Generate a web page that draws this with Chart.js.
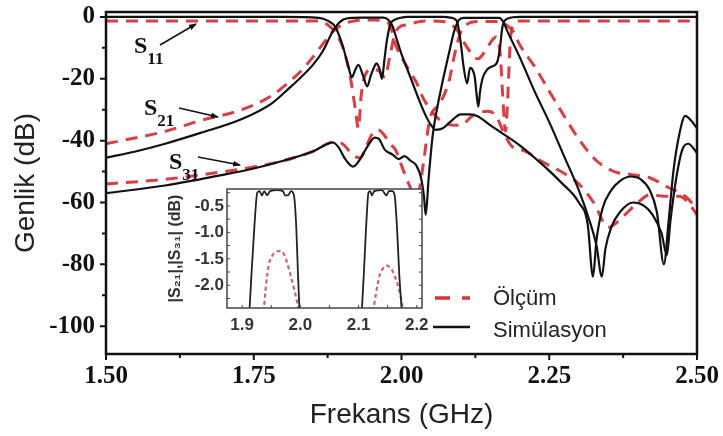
<!DOCTYPE html>
<html>
<head>
<meta charset="utf-8">
<script src="https://cdn.jsdelivr.net/npm/chart.js@4.4.1/dist/chart.umd.min.js"></script>
<style>
  html, body { margin: 0; padding: 0; background: #fff; }
  #wrap { position: relative; width: 723px; height: 436px; overflow: hidden; }
  #main { position: absolute; left: 0; top: 0; }
  #inset { position: absolute; left: 150px; top: 170px; }
  svg { position: absolute; left: 0; top: 0; }
  .lbl { position: absolute; font-family: "Liberation Serif", serif; font-weight: bold; font-size: 24px; line-height: 24px; color: #111; white-space: nowrap; }
  .lbl span { font-size: 17px; position: relative; top: 11px; }
  .leg { position: absolute; font-family: "Liberation Sans", Arial, sans-serif; font-size: 22px; line-height: 22px; color: #222; white-space: nowrap; }
</style>
</head>
<body>
<div id="wrap">
  <canvas id="main" width="723" height="436"></canvas>
  <canvas id="inset" width="280" height="175"></canvas>
  <svg width="723" height="436">
    <defs>
      <marker id="ah" markerWidth="8" markerHeight="6" refX="7" refY="3" orient="auto" markerUnits="userSpaceOnUse">
        <path d="M0,0 L8,3 L0,6 Z" fill="#111"/>
      </marker>
    </defs>
    <line x1="160" y1="45" x2="196" y2="24" stroke="#111" stroke-width="1.6" marker-end="url(#ah)"/>
    <line x1="179" y1="108" x2="218" y2="117" stroke="#111" stroke-width="1.6" marker-end="url(#ah)"/>
    <line x1="198" y1="157" x2="240" y2="165" stroke="#111" stroke-width="1.6" marker-end="url(#ah)"/>
    <line x1="435" y1="298" x2="473" y2="298" stroke="#d8353a" stroke-width="3.5" stroke-dasharray="15 12 8 100"/>
    <line x1="433" y1="327" x2="470" y2="327" stroke="#111" stroke-width="2.5"/>
  </svg>
  <div class="lbl" style="left:134px;top:33px">S<span>11</span></div>
  <div class="lbl" style="left:144px;top:95px">S<span>21</span></div>
  <div class="lbl" style="left:169px;top:149px">S<span>31</span></div>
  <div class="leg" style="left:493px;top:287px">Ölçüm</div>
  <div class="leg" style="left:493px;top:319px">Simülasyon</div>
</div>
<script>
// main axes
const xMajor = [1.5, 1.75, 2.0, 2.25, 2.5];
const xMinor = [1.625, 1.875, 2.125, 2.375];
const yMajor = [0, -20, -40, -60, -80, -100];
const yMinor = [-10, -30, -50, -70, -90];

// simulation (black solid)
const s11SimF = [1.50, 1.80, 1.86, 1.875, 1.888, 1.90, 1.91, 1.916, 1.922, 1.927,
  1.935, 1.942, 1.948, 1.953, 1.958, 1.963, 1.967, 1.971, 1.975, 1.981,
  1.99, 2.00, 2.01, 2.07, 2.085, 2.094, 2.10, 2.105, 2.111, 2.116,
  2.12, 2.124, 2.127, 2.13, 2.133, 2.137, 2.145, 2.153, 2.161, 2.166,
  2.171, 2.18, 2.20, 2.50];
const s11SimDb = [0, 0, -0.3, -1.2, -3.2, -9, -16, -19.5, -17, -15.5,
  -19, -22.5, -19, -16.5, -15, -17, -20, -14, -8, -2.5,
  -0.8, -0.2, 0, 0, -0.3, -1.5, -8, -16, -21.5, -16.5,
  -17, -19.5, -25, -29, -24, -20, -17, -16, -15, -11,
  -3, -0.5, 0, 0];

const s21SimF = [1.50, 1.55, 1.60, 1.66, 1.73, 1.78, 1.81, 1.83, 1.85, 1.867,
  1.88, 1.887, 1.90, 1.91, 1.93, 1.97, 1.978, 1.985, 1.99, 2.00,
  2.01, 2.02, 2.03, 2.04, 2.05, 2.058, 2.07, 2.085, 2.10, 2.115,
  2.128, 2.15, 2.20, 2.24, 2.27, 2.30, 2.315, 2.324, 2.33, 2.34,
  2.355, 2.37, 2.387, 2.405, 2.42, 2.432, 2.444, 2.452, 2.46, 2.47,
  2.48, 2.49, 2.50];
const s21SimDb = [-45.5, -43.5, -41, -37.5, -33, -28, -23, -19.5, -15.5, -11,
  -6, -3.5, -1, -0.4, -0.2, -0.2, -1, -3, -6, -12,
  -17, -22, -27, -31.5, -35, -36.5, -36, -33.5, -31.5, -31.5,
  -32, -35, -41.5, -48, -53.5, -60, -67, -84, -72, -62,
  -56, -53, -51.6, -52.5, -56, -63, -80, -66, -50, -38,
  -32, -33.5, -36];

const s31SimF = [1.50, 1.60, 1.70, 1.75, 1.80, 1.85, 1.884, 1.893, 1.905, 1.918,
  1.93, 1.942, 1.955, 1.962, 1.972, 1.985, 1.995, 2.005, 2.015, 2.025,
  2.033, 2.038, 2.041, 2.046, 2.053, 2.065, 2.08, 2.09, 2.097, 2.105,
  2.165, 2.172, 2.18, 2.20, 2.225, 2.25, 2.275, 2.30, 2.32, 2.33,
  2.339, 2.345, 2.355, 2.37, 2.392, 2.41, 2.425, 2.44, 2.449, 2.455,
  2.465, 2.475, 2.485, 2.50];
const s31SimDb = [-57, -54.5, -51, -49, -46.5, -43.5, -40.6, -42, -46, -48.4,
  -46, -42, -39, -39.5, -43, -44.5, -46, -45, -46.5, -48,
  -52, -58, -64, -52, -38, -25, -12, -4, -1, -0.3,
  -0.3, -1.5, -5, -13, -24, -34, -45, -56, -67, -74,
  -84, -75, -68, -63, -60, -61, -64, -70, -77, -66,
  -52, -43, -41, -44];

// measurement (red dashed)
const s11MeasF = [1.50, 1.86, 1.875, 1.888, 1.90, 1.912, 1.922, 1.927, 1.932, 1.938,
  1.95, 1.962, 1.972, 1.98, 1.988, 1.995, 2.01, 2.04, 2.07, 2.085,
  2.095, 2.105, 2.115, 2.123, 2.13, 2.138, 2.148, 2.16, 2.167, 2.172,
  2.176, 2.18, 2.184, 2.19, 2.20, 2.50];
const s11MeasDb = [-1.3, -1.3, -2.5, -5, -9.5, -18, -30, -36, -25, -19,
  -17, -17.5, -19.5, -13, -6, -3.5, -2.5, -1.3, -1.5, -2.5,
  -4.5, -8, -11, -13, -13.5, -12, -9, -6.5, -12, -28,
  -37, -25, -8, -2.5, -1.3, -1.3];

const s21MeasF = [1.50, 1.60, 1.66, 1.73, 1.78, 1.81, 1.83, 1.85, 1.87, 1.885,
  1.90, 1.92, 1.95, 1.975, 1.983, 1.99, 2.00, 2.015, 2.026, 2.036,
  2.053, 2.07, 2.09, 2.10, 2.12, 2.145, 2.16, 2.172, 2.185, 2.21,
  2.24, 2.27, 2.30, 2.325, 2.35, 2.375, 2.40, 2.42, 2.445, 2.47,
  2.485, 2.50];
const s21MeasDb = [-41, -37, -33.5, -30, -25.5, -21, -17.5, -13, -8, -4.5,
  -2.5, -1.3, -1, -1.5, -4, -9, -13, -18, -21.5, -26,
  -31, -34, -35, -35, -32, -30.5, -32, -37, -41.5, -43.5,
  -47, -50, -54, -60, -68, -64.5, -60, -57.5, -58, -58,
  -60, -64];

const s31MeasF = [1.50, 1.60, 1.70, 1.75, 1.80, 1.85, 1.885, 1.90, 1.91, 1.92,
  1.93, 1.94, 1.95, 1.96, 1.97, 1.98, 1.99, 2.00, 2.01, 2.02,
  2.027, 2.035, 2.048, 2.065, 2.08, 2.09, 2.10, 2.11, 2.13, 2.16,
  2.172, 2.18, 2.19, 2.20, 2.225, 2.25, 2.275, 2.30, 2.33, 2.36,
  2.39, 2.42, 2.45, 2.48, 2.50];
const s31MeasDb = [-54, -52.5, -50, -48.5, -46.5, -43.5, -40.5, -41, -43, -45,
  -45.5, -42, -38, -36.5, -38, -41, -43, -48, -53, -57,
  -58, -50, -33, -28, -21, -12, -5, -2.5, -1.5, -1.5,
  -2, -3, -5, -9, -16, -24, -32, -39.5, -46.5, -50,
  -51, -52, -55, -58, -62];

// inset: passband insertion loss
const insetXTicks = [1.9, 2.0, 2.1, 2.2];
const insetYTicks = [-0.5, -1.0, -1.5, -2.0];
const in21SimF = [1.912, 1.916, 1.921, 1.926, 1.930, 1.934, 1.938, 1.943, 1.948, 1.96,
  1.970, 1.974, 1.979, 1.984, 1.989, 1.993, 1.996, 1.999];
const in21SimDb = [-2.6, -1.8, -0.9, -0.25, -0.22, -0.3, -0.22, -0.3, -0.22, -0.2,
  -0.22, -0.3, -0.3, -0.22, -0.3, -0.9, -1.8, -2.6];
const in31SimF = [2.105, 2.109, 2.113, 2.117, 2.12, 2.123, 2.127, 2.14, 2.148, 2.152,
  2.158, 2.162, 2.166, 2.17, 2.175];
const in31SimDb = [-2.6, -1.8, -0.9, -0.25, -0.22, -0.3, -0.22, -0.2, -0.3, -0.22,
  -0.22, -0.3, -0.9, -1.8, -2.6];
const in21MeasF = [1.937, 1.941, 1.946, 1.953, 1.96, 1.966, 1.972, 1.978, 1.984, 1.99, 1.995, 1.998];
const in21MeasDb = [-2.5, -2.0, -1.6, -1.42, -1.36, -1.35, -1.42, -1.6, -1.85, -2.1, -2.35, -2.5];
const in31MeasF = [2.125, 2.13, 2.136, 2.142, 2.148, 2.153, 2.158, 2.164, 2.17, 2.174, 2.177];
const in31MeasDb = [-2.5, -2.15, -1.82, -1.68, -1.63, -1.65, -1.72, -1.88, -2.1, -2.3, -2.5];

const pts = (f, db) => f.map((x, i) => ({ x: x, y: db[i] }));

// frame + small tick marks around the plot area
const frameTicks = {
  id: 'frameTicks',
  beforeDraw(chart, args, o) {
    if (!o.fill) return;
    const a = chart.chartArea;
    chart.ctx.save();
    chart.ctx.fillStyle = o.fill;
    chart.ctx.fillRect(a.left, a.top, a.right - a.left, a.bottom - a.top);
    chart.ctx.restore();
  },
  afterDraw(chart, args, o) {
    const { ctx, chartArea: a } = chart;
    const x = chart.scales.x, y = chart.scales.y;
    ctx.save();
    ctx.strokeStyle = o.color;
    ctx.lineWidth = o.tickWidth;
    ctx.beginPath();
    o.xTicks.forEach(t => {
      const px = x.getPixelForValue(t[0]);
      ctx.moveTo(px, a.bottom);
      ctx.lineTo(px, a.bottom + o.dir * t[1]);
    });
    o.yTicks.forEach(t => {
      const py = y.getPixelForValue(t[0]);
      ctx.moveTo(a.left, py);
      ctx.lineTo(a.left - o.dir * t[1], py);
      if (o.both) {
        ctx.moveTo(a.right, py);
        ctx.lineTo(a.right + o.dir * t[1], py);
      }
    });
    ctx.stroke();
    ctx.lineWidth = o.width;
    ctx.strokeRect(a.left, a.top, a.right - a.left, a.bottom - a.top);
    ctx.restore();
  }
};

const black = '#111111';
const red = 'rgba(214, 46, 52, 0.92)';

function simSet(label, data) {
  return { label: label, data: data, borderColor: black, borderWidth: 2.2, pointRadius: 0,
    cubicInterpolationMode: 'monotone', fill: false };
}
function measSet(label, data) {
  return { label: label, data: data, borderColor: red, borderWidth: 3, borderDash: [12, 8],
    pointRadius: 0, cubicInterpolationMode: 'monotone', fill: false };
}

new Chart(document.getElementById('main'), {
  type: 'line',
  data: {
    datasets: [
      simSet('S11 sim', pts(s11SimF, s11SimDb)),
      simSet('S21 sim', pts(s21SimF, s21SimDb)),
      simSet('S31 sim', pts(s31SimF, s31SimDb)),
      measSet('S11 ölçüm', pts(s11MeasF, s11MeasDb)),
      measSet('S21 ölçüm', pts(s21MeasF, s21MeasDb)),
      measSet('S31 ölçüm', pts(s31MeasF, s31MeasDb))
    ]
  },
  options: {
    responsive: false,
    animation: false,
    layout: { padding: { left: 0, top: 12, right: 26, bottom: 0 } },
    plugins: {
      legend: { display: false },
      tooltip: { enabled: false },
      frameTicks: {
        color: black, width: 2.5, tickWidth: 2, dir: 1, both: false,
        xTicks: xMajor.map(v => [v, 6]).concat(xMinor.map(v => [v, 4])),
        yTicks: yMajor.map(v => [v, 6]).concat(yMinor.map(v => [v, 4]))
      }
    },
    scales: {
      x: {
        type: 'linear', min: 1.5, max: 2.5,
        grid: { display: false, drawTicks: false },
        border: { display: false },
        afterBuildTicks: s => { s.ticks = xMajor.map(v => ({ value: v })); },
        afterFit: s => { s.height = 82; s.paddingLeft = 0; s.paddingRight = 0; },
        ticks: {
          padding: 8, color: '#111', maxRotation: 0,
          font: { family: 'Liberation Serif', size: 25, weight: 'bold' },
          callback: v => v.toFixed(2)
        },
        title: {
          display: true, text: 'Frekans (GHz)', color: '#222',
          font: { family: 'Liberation Sans', size: 28 },
          padding: { top: 0, bottom: 4 }
        }
      },
      y: {
        min: -109, max: 1.6,
        grid: { display: false, drawTicks: false },
        border: { display: false },
        afterBuildTicks: s => { s.ticks = yMajor.map(v => ({ value: v })); },
        afterFit: s => { s.width = 106; s.paddingTop = 0; s.paddingBottom = 0; },
        ticks: {
          padding: 11, color: '#111',
          font: { family: 'Liberation Serif', size: 25, weight: 'bold' },
          callback: v => String(v)
        },
        title: {
          display: true, text: 'Genlik (dB)', color: '#222',
          font: { family: 'Liberation Sans', size: 28 },
          padding: { top: 9, bottom: 0 }
        }
      }
    }
  },
  plugins: [frameTicks]
});

new Chart(document.getElementById('inset'), {
  type: 'line',
  data: {
    datasets: [
      { label: 'S21 sim', data: pts(in21SimF, in21SimDb), borderColor: '#222', borderWidth: 1.8,
        pointRadius: 0, cubicInterpolationMode: 'monotone' },
      { label: 'S31 sim', data: pts(in31SimF, in31SimDb), borderColor: '#222', borderWidth: 1.8,
        pointRadius: 0, cubicInterpolationMode: 'monotone' },
      { label: 'S21 ölçüm', data: pts(in21MeasF, in21MeasDb), borderColor: 'rgba(200, 70, 95, 0.85)',
        borderWidth: 2.2, borderDash: [4, 3], pointRadius: 0, cubicInterpolationMode: 'monotone' },
      { label: 'S31 ölçüm', data: pts(in31MeasF, in31MeasDb), borderColor: 'rgba(200, 70, 95, 0.85)',
        borderWidth: 2.2, borderDash: [4, 3], pointRadius: 0, cubicInterpolationMode: 'monotone' }
    ]
  },
  options: {
    responsive: false,
    animation: false,
    layout: { padding: { left: 0, top: 19, right: 8, bottom: 0 } },
    plugins: {
      legend: { display: false },
      tooltip: { enabled: false },
      frameTicks: {
        fill: '#ffffff', color: '#444', width: 1.5, tickWidth: 1, dir: -1, both: true,
        xTicks: [1.9, 1.95, 2.0, 2.05, 2.1, 2.15, 2.2].map(v => [v, 3]),
        yTicks: [-0.25, -0.5, -0.75, -1.0, -1.25, -1.5, -1.75, -2.0, -2.25].map(v => [v, 3])
      }
    },
    scales: {
      x: {
        type: 'linear', min: 1.874, max: 2.209,
        grid: { display: false, drawTicks: false },
        border: { display: false },
        afterBuildTicks: s => { s.ticks = insetXTicks.map(v => ({ value: v })); },
        afterFit: s => { s.height = 37; s.paddingLeft = 0; s.paddingRight = 0; },
        ticks: {
          padding: 7, color: '#333', maxRotation: 0,
          font: { family: 'Liberation Sans', size: 17, weight: 'bold' },
          callback: v => v.toFixed(1)
        }
      },
      y: {
        min: -2.43, max: -0.18,
        grid: { display: false, drawTicks: false },
        border: { display: false },
        afterBuildTicks: s => { s.ticks = insetYTicks.map(v => ({ value: v })); },
        afterFit: s => { s.width = 77; s.paddingTop = 0; s.paddingBottom = 0; },
        ticks: {
          padding: 3, color: '#333',
          font: { family: 'Liberation Sans', size: 17, weight: 'bold' },
          callback: v => v.toFixed(1)
        },
        title: {
          display: true, text: '|S₂₁|,|S₃₁| (dB)', color: '#333',
          font: { family: "'Liberation Sans', 'DejaVu Sans'", size: 16, weight: 'bold' },
          padding: { top: 16, bottom: 0 }
        }
      }
    }
  },
  plugins: [frameTicks]
});
</script>
</body>
</html>
